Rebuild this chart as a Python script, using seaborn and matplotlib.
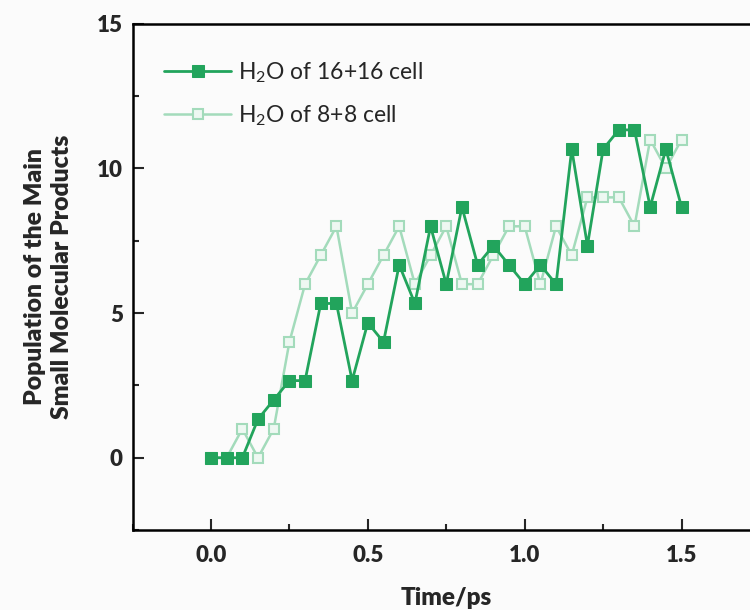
import matplotlib
matplotlib.use("Agg")
import matplotlib.pyplot as plt
import seaborn as sns
import pandas as pd
from matplotlib.ticker import MultipleLocator

time_ps = [0.00, 0.05, 0.10, 0.15, 0.20, 0.25, 0.30, 0.35, 0.40, 0.45, 0.50,
           0.55, 0.60, 0.65, 0.70, 0.75, 0.80, 0.85, 0.90, 0.95, 1.00, 1.05,
           1.10, 1.15, 1.20, 1.25, 1.30, 1.35, 1.40, 1.45, 1.50]
h2o_16 = [0, 0, 0, 1.333, 2, 2.667, 2.667, 5.333, 5.333, 2.667, 4.667,
          4, 6.667, 5.333, 8, 6, 8.667, 6.667, 7.333, 6.667, 6, 6.667,
          6, 10.667, 7.333, 10.667, 11.333, 11.333, 8.667, 10.667, 8.667]
h2o_8 = [0, 0, 1, 0, 1, 4, 6, 7, 8, 5, 6,
         7, 8, 6, 7, 8, 6, 6, 7, 8, 8, 6,
         8, 7, 9, 9, 9, 8, 11, 10, 11]
labels = ["H$_2$O of 16+16 cell", "H$_2$O of 8+8 cell"]

sns.set_theme(style="ticks")
plt.rcParams['font.family'] = ['Lato', 'DejaVu Sans']
plt.rcParams['mathtext.fontset'] = 'custom'
plt.rcParams['mathtext.rm'] = 'Lato'

fig = plt.figure(figsize=(7.5, 6.1), dpi=100)
fig.patch.set_facecolor('#fbfbfb')
ax = fig.add_axes([0.1767, 0.131, 0.8366, 0.830])
ax.set_facecolor('#fbfbfb')

df16 = pd.DataFrame({"t": time_ps, "v": h2o_16})
df8 = pd.DataFrame({"t": time_ps, "v": h2o_8})

dark = '#22a45c'
light = '#a3dbbb'

sns.lineplot(data=df8, x="t", y="v", ax=ax, color=light, lw=1.8,
             marker='s', markersize=7, markerfacecolor='#eef8f2',
             markeredgecolor=light, markeredgewidth=1.5, label=labels[1], zorder=2)
sns.lineplot(data=df16, x="t", y="v", ax=ax, color=dark, lw=2.0,
             marker='s', markersize=8, markerfacecolor=dark,
             markeredgecolor=dark, label=labels[0], zorder=3)

ax.set_xlim(-0.25, 1.75)
ax.set_ylim(-2.5, 15)
ax.xaxis.set_minor_locator(MultipleLocator(0.25))
ax.yaxis.set_major_locator(MultipleLocator(5))
ax.yaxis.set_minor_locator(MultipleLocator(2.5))
ax.set_xticks([0.0, 0.5, 1.0, 1.5])
ax.set_xticklabels(["0.0", "0.5", "1.0", "1.5"])
ax.tick_params(which='major', direction='in', length=8, width=1.5,
               labelsize=16)
ax.tick_params(which='minor', direction='in', length=4, width=1.5)
ax.tick_params(axis='x', pad=11)
ax.tick_params(axis='y', pad=7)
for lab in ax.get_xticklabels() + ax.get_yticklabels():
    lab.set_fontweight('heavy')

for s in ax.spines.values():
    s.set_linewidth(1.8)
    s.set_color('black')

ax.set_xlabel("Time/ps", fontsize=17.5, fontweight='heavy', labelpad=15)
ax.set_ylabel("Population of the Main\nSmall Molecular Products",
              fontsize=17.8, fontweight='heavy', labelpad=17, linespacing=1.3)

h, l = ax.get_legend_handles_labels()
leg = ax.legend([h[1], h[0]], [l[1], l[0]], loc='upper left',
                bbox_to_anchor=(0.018, 0.97), frameon=False, fontsize=16.5,
                handlelength=2.9, labelspacing=0.8, handletextpad=0.3)

fig.savefig("out.png", dpi=100, facecolor=fig.get_facecolor())
